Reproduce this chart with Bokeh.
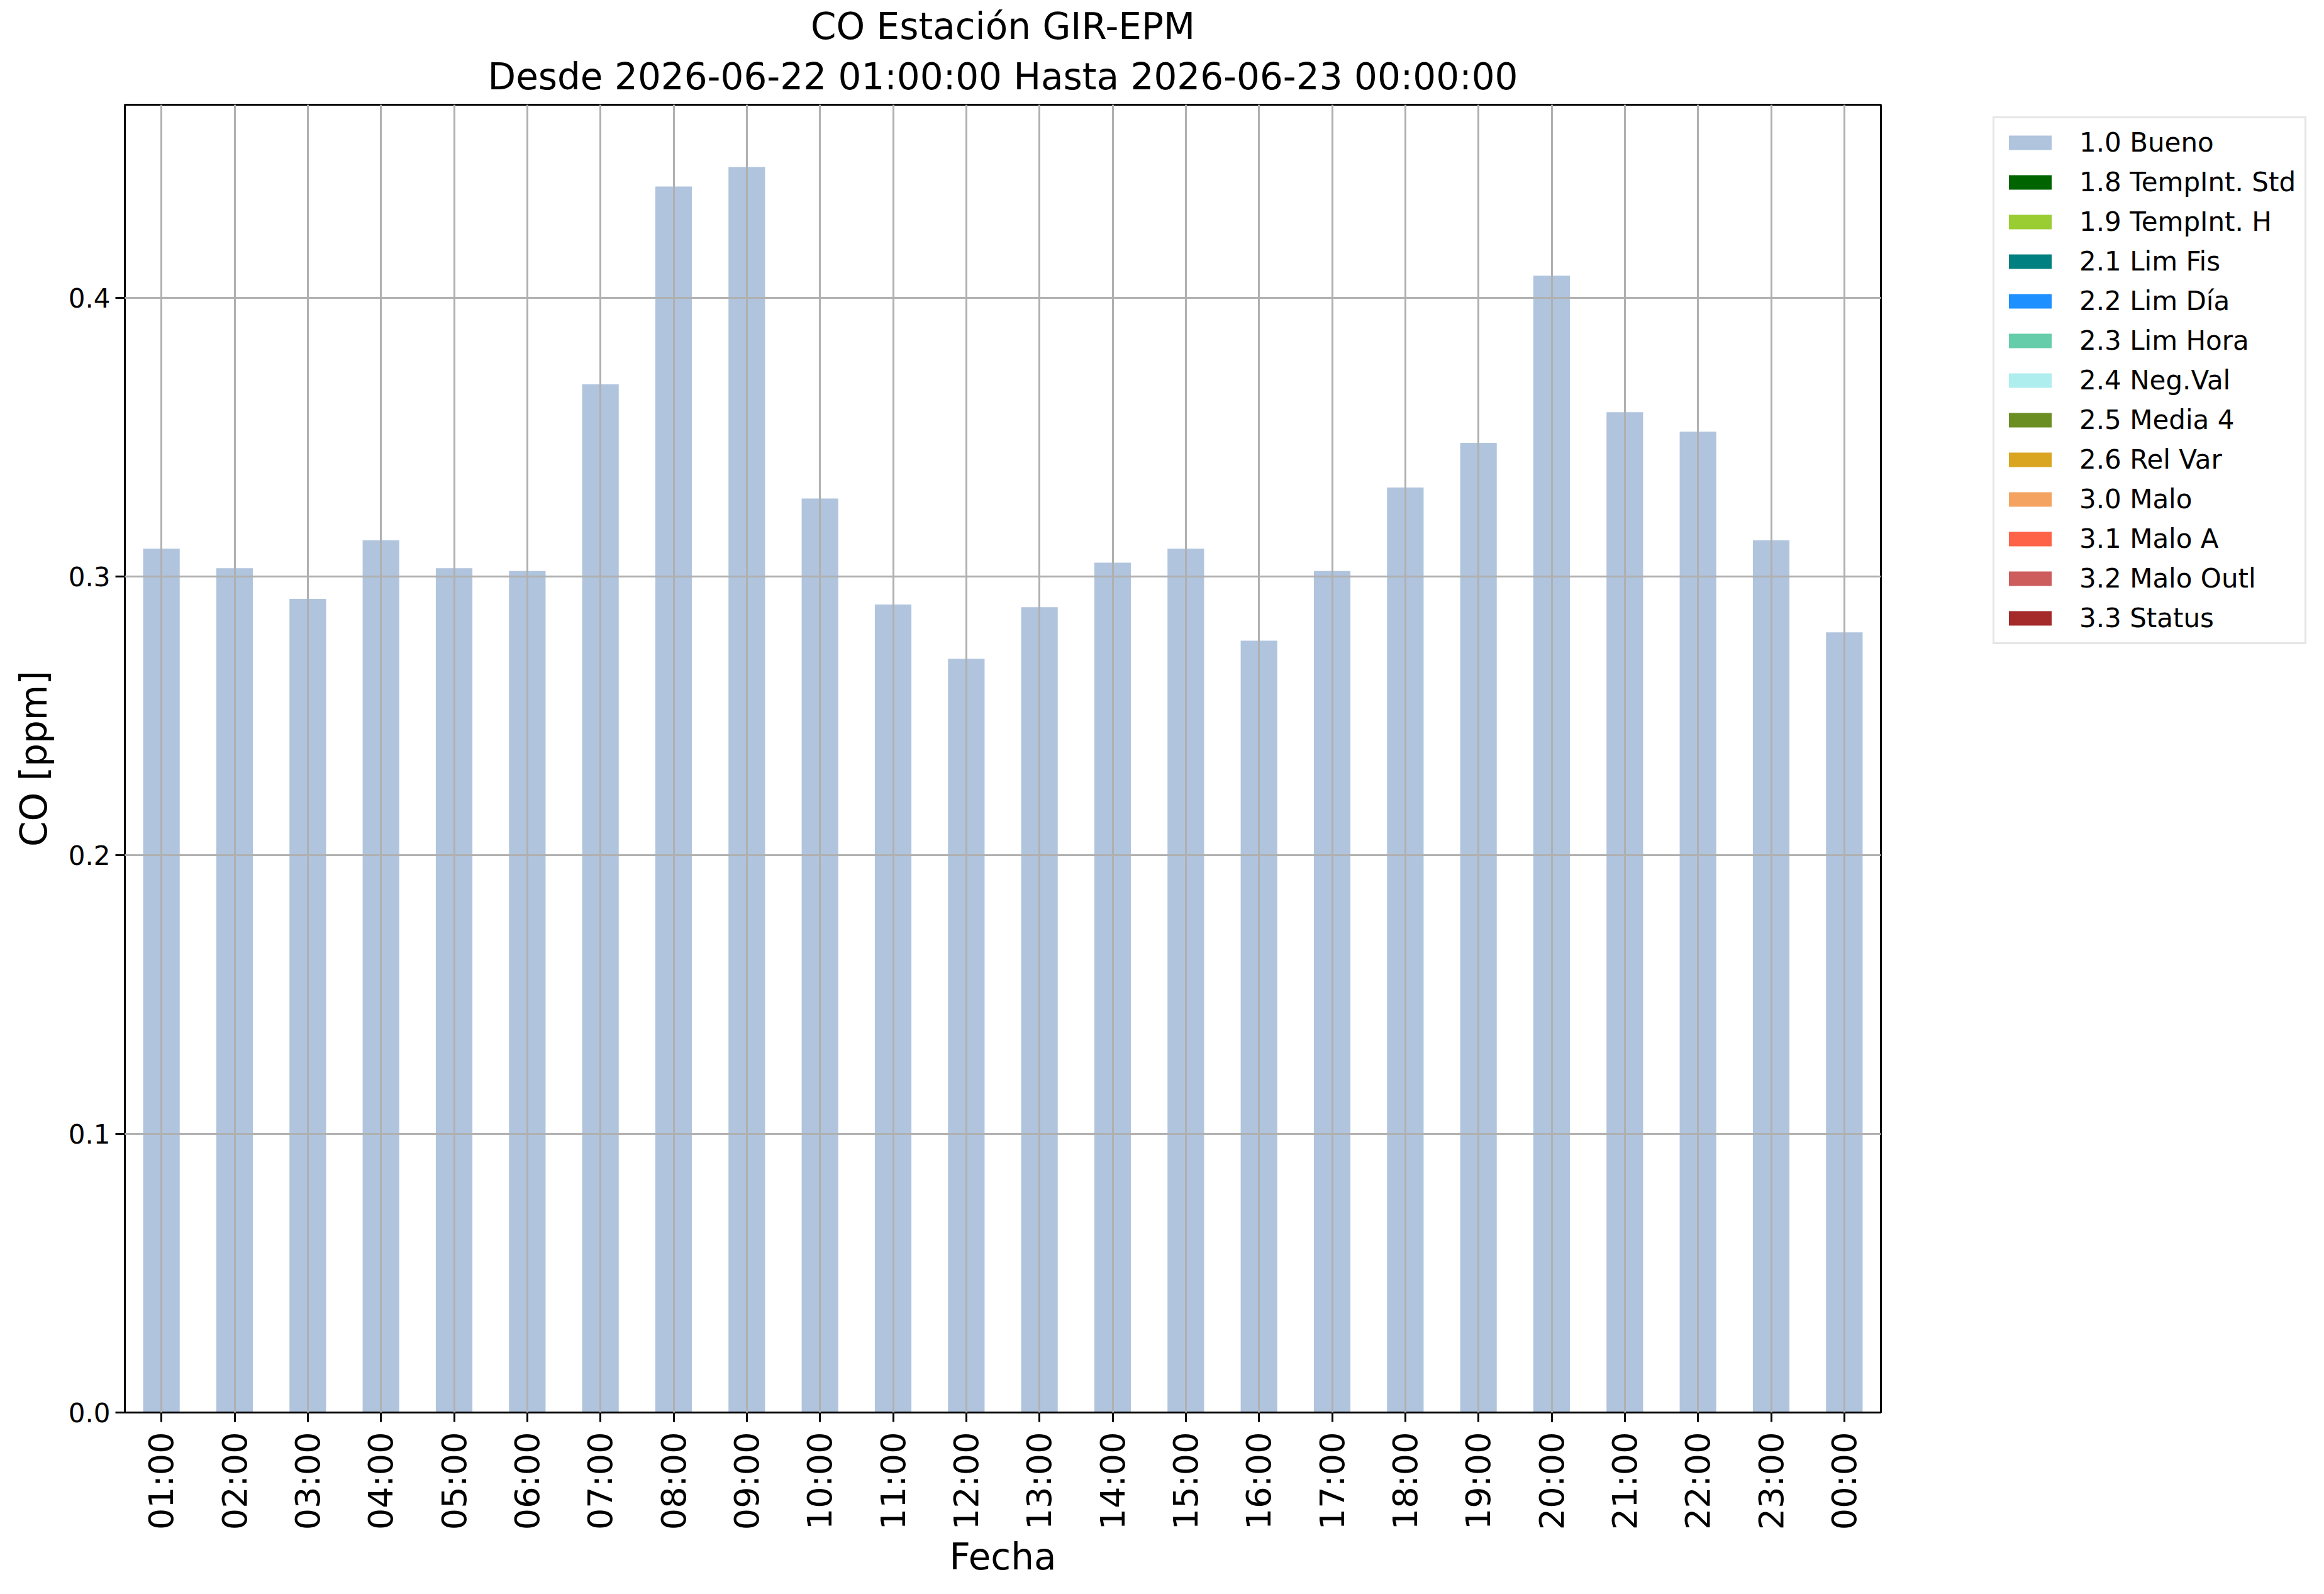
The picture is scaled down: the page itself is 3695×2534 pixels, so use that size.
import math
from bokeh.plotting import figure
from bokeh.layouts import row
from bokeh.models import (ColumnDataSource, FactorRange, Range1d, FixedTicker,
                          PrintfTickFormatter, Legend, LegendItem, Title)
from bokeh.embed import file_html
from bokeh.resources import INLINE

# ---------------- data ----------------
horas = ["01:00", "02:00", "03:00", "04:00", "05:00", "06:00", "07:00", "08:00",
         "09:00", "10:00", "11:00", "12:00", "13:00", "14:00", "15:00", "16:00",
         "17:00", "18:00", "19:00", "20:00", "21:00", "22:00", "23:00", "00:00"]

co_bueno = [0.310, 0.303, 0.292, 0.313, 0.303, 0.302, 0.369, 0.440,
            0.447, 0.328, 0.290, 0.2705, 0.289, 0.305, 0.310, 0.277,
            0.302, 0.332, 0.348, 0.408, 0.359, 0.352, 0.313, 0.280]

sin_datos = [0.0, 0.0, 0.0, 0.0, 0.0, 0.0, 0.0, 0.0, 0.0, 0.0, 0.0, 0.0,
             0.0, 0.0, 0.0, 0.0, 0.0, 0.0, 0.0, 0.0, 0.0, 0.0, 0.0, 0.0]

flag_labels = ["1.0 Bueno", "1.8 TempInt. Std", "1.9 TempInt. H", "2.1 Lim Fis",
               "2.2 Lim Día", "2.3 Lim Hora", "2.4 Neg.Val", "2.5 Media 4",
               "2.6 Rel Var", "3.0 Malo", "3.1 Malo A", "3.2 Malo Outl", "3.3 Status"]

flag_colors = ["#B0C4DE", "#006400", "#9ACD32", "#008080", "#1E90FF", "#66CDAA",
               "#AFEEEE", "#6B8E23", "#DAA520", "#F4A460", "#FF6347", "#CD5C5C",
               "#A52A2A"]

titulo_1 = "CO Estación GIR-EPM"
titulo_2 = "Desde 2026-06-22 01:00:00 Hasta 2026-06-23 00:00:00"
y_ticks = [0.0, 0.1, 0.2, 0.3, 0.4]

# ---------------- build ----------------
FONT = "DejaVu Sans"
keys = ["f%d" % i for i in range(len(flag_labels))]
data = {"hora": horas}
for i, k in enumerate(keys):
    data[k] = co_bueno if i == 0 else sin_datos
source = ColumnDataSource(data)

H = 2518
ML, MT = 198, 166
FW, FH = 2792, 2079
MR = 6
MB = H - MT - FH
WP = ML + FW + MR          # main figure width
WL = 3679 - WP             # legend figure width

p = figure(width=WP, height=H, x_range=FactorRange(factors=horas),
           y_range=Range1d(0, max(co_bueno) * 1.05),
           output_backend="svg", toolbar_location=None,
           min_border_left=ML, min_border_right=MR,
           min_border_top=MT, min_border_bottom=MB)

renderers = p.vbar_stack(keys, x="hora", width=0.5, color=flag_colors,
                         line_color=None, source=source)

# titles (first added is closest to the frame)
sub = Title(text=titulo_2, align="center", text_font=FONT, text_color="black",
            text_font_size="58px", text_font_style="normal", standoff=21)
main = Title(text=titulo_1, align="center", text_font=FONT, text_color="black",
             text_font_size="58px", text_font_style="normal", standoff=0)
p.add_layout(sub, "above")
p.add_layout(main, "above")

# frame
p.outline_line_color = "black"
p.outline_line_width = 3
p.background_fill_color = "white"
p.border_fill_color = "white"

# axes
for ax in (p.xaxis[0], p.yaxis[0]):
    ax.axis_line_color = "black"
    ax.axis_line_width = 3
    ax.major_tick_line_color = "black"
    ax.major_tick_line_width = 3
    ax.major_tick_out = 15
    ax.major_tick_in = 0
    ax.minor_tick_line_color = None
    ax.major_label_text_font = FONT
    ax.major_label_text_color = "black"
    ax.axis_label_text_font = FONT
    ax.axis_label_text_font_size = "58px"
    ax.axis_label_text_font_style = "normal"
    ax.axis_label_text_color = "black"

p.xaxis.axis_label = "Fecha"
p.xaxis.major_label_orientation = math.pi / 2
p.xaxis.major_label_text_font_size = "54px"
p.xaxis.major_label_standoff = 16
p.xaxis.axis_label_standoff = 6

p.yaxis.axis_label = "CO [ppm]"
p.yaxis.ticker = FixedTicker(ticks=y_ticks)
p.yaxis.formatter = PrintfTickFormatter(format="%.1f")
p.yaxis.major_label_text_font_size = "42px"
p.yaxis.major_label_standoff = 8
p.yaxis.axis_label_standoff = 18

# grid on top of bars
for g in (p.xgrid[0], p.ygrid[0]):
    g.grid_line_color = "#b0b0b0"
    g.grid_line_width = 3
    g.level = "annotation"
p.ygrid.ticker = FixedTicker(ticks=y_ticks)

# ---- legend panel (separate figure to the right; its bars fall outside its range) ----
pl = figure(width=WL, height=H, x_range=FactorRange(factors=["-"]),
            y_range=Range1d(0, 1), output_backend="svg",
            toolbar_location=None, min_border=0,
            x_axis_location=None, y_axis_location=None)
pl.outline_line_color = None
pl.grid.visible = False
pl.background_fill_color = "white"
pl.border_fill_color = "white"
rend_l = pl.vbar_stack(keys, x="hora", width=0.5, color=flag_colors,
                       line_color=None, source=source)

items = [LegendItem(label=lab, renderers=[r]) for lab, r in zip(flag_labels, rend_l)]
legend = Legend(items=items, location=(172, FH - 24 - 834),
                label_text_font=FONT, label_text_font_size="42px",
                label_text_color="black",
                glyph_width=85, glyph_height=29, label_height=49,
                label_standoff=36, spacing=14, padding=14, margin=0,
                border_line_color="#cccccc", border_line_width=3,
                background_fill_color="white", background_fill_alpha=1.0)
pl.add_layout(legend, "center")

layout = row(p, pl)
open("out.html", "w").write(file_html(layout, INLINE))
